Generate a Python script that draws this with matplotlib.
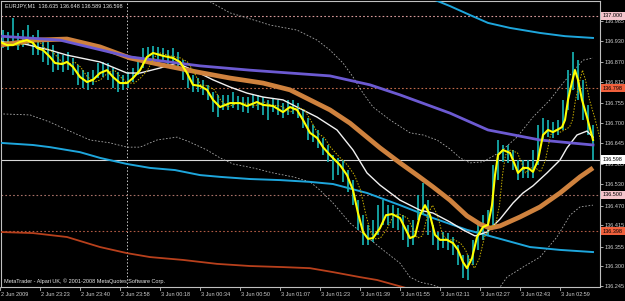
import numpy as np
import matplotlib
matplotlib.use("Agg")
import matplotlib.pyplot as plt
from matplotlib.patches import Rectangle
import matplotlib.transforms as mtransforms

plt.rcParams['font.family'] = ['Liberation Sans', 'DejaVu Sans']

# ---------------- data (x = bar index, y = price) ----------------
title = "EURJPY,M1  136.635 136.648 136.589 136.598"
copyright_txt = "MetaTrader - Alpari UK, \u00a9 2001-2008 MetaQuotes Software Corp."

x_tick_bars = [0, 16, 32, 48, 64, 80, 96, 112, 128, 144, 160, 176, 192, 208, 224]
x_tick_labels = ["2 Jun 2009", "2 Jun 23:23", "2 Jun 23:40", "2 Jun 23:58", "3 Jun 00:18",
                 "3 Jun 00:34", "3 Jun 00:50", "3 Jun 01:07", "3 Jun 01:23", "3 Jun 01:39",
                 "3 Jun 01:55", "3 Jun 02:11", "3 Jun 02:27", "3 Jun 02:43", "3 Jun 02:59"]

y_ticks = [136.985, 136.930, 136.870, 136.815, 136.755, 136.700, 136.645, 136.585,
           136.530, 136.470, 136.415, 136.355, 136.300, 136.245]

# horizontal levels (price, line colour, box colour)
levels = [137.000, 136.798, 136.598, 136.500, 136.398]
level_line_colors = ['#d89a9a', '#c06a4a', '#d8d8d8', '#a87068', '#b05a44']
level_box_colors = ['#f4c4cc', '#f0603c', '#ffffff', '#f4c4cc', '#f0603c']
level_styles = [':', ':', '-', ':', ':']

separator_bar = 50.8

# price bars (high / low)
bar_index = np.arange(1, 238, 2)
bar_high = [136.960, 136.955, 136.994, 136.952, 136.960, 136.974, 136.946, 136.960, 136.938, 136.932,
            136.918, 136.899, 136.890, 136.899, 136.882, 136.862, 136.848, 136.843, 136.848, 136.868,
            136.871, 136.868, 136.854, 136.843, 136.835, 136.843, 136.854, 136.882, 136.910, 136.913,
            136.916, 136.913, 136.910, 136.904, 136.910, 136.899, 136.876, 136.854, 136.835, 136.826,
            136.821, 136.807, 136.787, 136.779, 136.779, 136.779, 136.787, 136.776, 136.773, 136.773,
            136.779, 136.779, 136.773, 136.765, 136.770, 136.765, 136.756, 136.765, 136.765, 136.756,
            136.737, 136.714, 136.695, 136.681, 136.659, 136.639, 136.611, 136.603, 136.597, 136.569,
            136.541, 136.485, 136.443, 136.416, 136.430, 136.471, 136.485, 136.471, 136.471, 136.463,
            136.443, 136.416, 136.430, 136.499, 136.533, 136.485, 136.416, 136.396, 136.396, 136.393,
            136.382, 136.360, 136.332, 136.332, 136.374, 136.416, 136.443, 136.457, 136.583, 136.653,
            136.639, 136.639, 136.625, 136.597, 136.597, 136.597, 136.625, 136.695, 136.714, 136.709,
            136.703, 136.709, 136.765, 136.848, 136.899, 136.876, 136.821, 136.751, 136.695]
bar_low = [136.910, 136.904, 136.918, 136.904, 136.913, 136.918, 136.890, 136.890, 136.871, 136.862,
           136.843, 136.848, 136.843, 136.848, 136.835, 136.807, 136.798, 136.793, 136.807, 136.826,
           136.829, 136.821, 136.798, 136.787, 136.793, 136.798, 136.815, 136.835, 136.854, 136.871,
           136.876, 136.871, 136.871, 136.865, 136.871, 136.854, 136.821, 136.798, 136.787, 136.787,
           136.779, 136.765, 136.731, 136.717, 136.737, 136.737, 136.742, 136.737, 136.731, 136.728,
           136.742, 136.737, 136.723, 136.709, 136.731, 136.723, 136.714, 136.723, 136.726, 136.714,
           136.687, 136.653, 136.647, 136.631, 136.611, 136.592, 136.541, 136.555, 136.536, 136.508,
           136.471, 136.402, 136.360, 136.360, 136.368, 136.388, 136.416, 136.416, 136.407, 136.402,
           136.374, 136.354, 136.360, 136.430, 136.443, 136.388, 136.360, 136.346, 136.351, 136.346,
           136.332, 136.304, 136.268, 136.262, 136.304, 136.346, 136.374, 136.388, 136.416, 136.541,
           136.592, 136.589, 136.569, 136.541, 136.547, 136.547, 136.547, 136.583, 136.653, 136.661,
           136.659, 136.667, 136.681, 136.737, 136.793, 136.765, 136.709, 136.667, 136.597]

# fast smoothed line (yellow)
yellow_x = [0, 2.8, 5.2, 8, 10.8, 13.2, 14.8, 17.2, 20, 22, 24.8, 26.8, 29.2, 32, 34.8, 37.2, 40, 42.8,
            45.2, 48, 50.8, 53.2, 56, 58.8, 61.2, 65.2, 69.2, 72, 74.8, 77.2, 80, 82.8, 85.2, 88, 92,
            96, 98.8, 102.8, 105.2, 109.2, 113.2, 116, 118.8, 121.2, 124, 126.8, 129.2, 132, 136,
            138.8, 141.2, 143.2, 145.2, 147.2, 149.2, 152, 154.4, 156.8, 160, 162, 164, 166, 168,
            170, 172, 174, 176, 178.8, 181.2, 183.2, 185.2, 186.8, 188.8, 190.8, 193.2, 195.2, 196.8,
            198, 199.2, 201.2, 204, 206, 207.2, 209.2, 211.2, 213.2, 215.2, 217.2, 219.2, 221.2,
            222.8, 224.8, 226, 227.2, 228.8, 230, 231.2, 232.8, 234.8, 237.2]
yellow_y = [136.927, 136.918, 136.918, 136.927, 136.932, 136.924, 136.910, 136.904, 136.885, 136.868,
            136.865, 136.871, 136.857, 136.829, 136.815, 136.821, 136.840, 136.848, 136.829, 136.812,
            136.812, 136.826, 136.848, 136.885, 136.896, 136.888, 136.882, 136.871, 136.840, 136.807,
            136.804, 136.793, 136.765, 136.745, 136.756, 136.756, 136.748, 136.759, 136.751, 136.748,
            136.731, 136.745, 136.737, 136.709, 136.673, 136.659, 136.633, 136.611, 136.583, 136.555,
            136.513, 136.449, 136.396, 136.377, 136.379, 136.407, 136.443, 136.446, 136.435, 136.407,
            136.379, 136.385, 136.443, 136.471, 136.443, 136.388, 136.374, 136.374, 136.365, 136.346,
            136.312, 136.295, 136.323, 136.382, 136.410, 136.416, 136.471, 136.555, 136.611, 136.625,
            136.617, 136.583, 136.561, 136.575, 136.575, 136.564, 136.597, 136.667, 136.681, 136.675,
            136.681, 136.689, 136.709, 136.765, 136.815, 136.848, 136.821, 136.765, 136.717, 136.653]
signal_lag_bars = 3

# white moving average
white_x = [0, 8, 20, 26.8, 40, 50.8, 56, 64, 70.8, 78.8, 85.2, 92, 98.8, 105.2, 113.2, 118.8, 126.8,
           134.8, 141.2, 146.8, 152, 160, 168, 173.2, 180, 185.2, 190, 194.8, 200, 205.2, 209.2,
           213.2, 218.8, 224, 226.8, 230.8, 234.8, 237.2]
white_y = [136.927, 136.924, 136.904, 136.890, 136.871, 136.840, 136.840, 136.854, 136.868, 136.843,
           136.821, 136.801, 136.784, 136.773, 136.765, 136.745, 136.717, 136.681, 136.625, 136.561,
           136.527, 136.485, 136.457, 136.449, 136.424, 136.402, 136.385, 136.396, 136.432, 136.477,
           136.505, 136.525, 136.561, 136.597, 136.631, 136.667, 136.678, 136.661]

# orange moving average
orange_x = [0, 14, 26.8, 40, 52, 65.2, 78.8, 92, 105.2, 116, 124, 132, 140, 152, 160, 166.8, 173.2,
            180, 186.8, 192, 196, 200, 208, 216, 224, 232, 237.2]
orange_y = [136.918, 136.932, 136.935, 136.913, 136.882, 136.862, 136.843, 136.826, 136.812, 136.793,
            136.765, 136.737, 136.700, 136.631, 136.589, 136.555, 136.522, 136.485, 136.441, 136.418,
            136.407, 136.413, 136.438, 136.466, 136.505, 136.550, 136.575]

# slow moving average (purple)
purple_x = [0, 24, 52, 80, 100, 132, 148, 160, 180, 195.2, 216, 237.2]
purple_y = [136.943, 136.932, 136.885, 136.860, 136.848, 136.832, 136.807, 136.779, 136.728,
            136.681, 136.653, 136.639]

# envelope of slow average (cyan)
cyan_up_x = [171.2, 180, 188, 195.2, 204, 216, 226, 237.2]
cyan_up_y = [137.052, 137.027, 137.002, 136.980, 136.966, 136.952, 136.943, 136.938]
cyan_lo_x = [0, 13.2, 20, 32, 40, 50.8, 60, 70, 80, 88, 100, 112, 124, 133.2, 146.8, 160, 173.2,
             186.8, 200, 212, 224, 237.2]
cyan_lo_y = [136.645, 136.639, 136.633, 136.619, 136.603, 136.586, 136.575, 136.569, 136.555,
             136.550, 136.544, 136.541, 136.536, 136.530, 136.505, 136.471, 136.435, 136.402,
             136.377, 136.354, 136.346, 136.340]

# lower red envelope
red_x = [0, 13.2, 26.8, 40, 50.8, 60, 73.2, 86.8, 100, 113.2, 124, 133.2, 144, 150.8, 161.2, 168]
red_y = [136.396, 136.393, 136.382, 136.354, 136.337, 136.326, 136.318, 136.307, 136.301, 136.298,
         136.295, 136.284, 136.270, 136.262, 136.242, 136.228]

# bands (grey dotted)
band_up_x = [76, 82.8, 92, 98.8, 108, 118.8, 126.8, 132, 137.2, 141.2, 145.2, 149.2, 156, 164, 169.2,
             174.8, 180, 184, 188, 193.2, 200, 206.8, 213.2, 220, 225.2, 230.8, 233.2, 237.2]
band_up_y = [137.058, 137.044, 137.008, 136.994, 136.974, 136.960, 136.932, 136.904, 136.868,
             136.829, 136.784, 136.745, 136.709, 136.673, 136.667, 136.653, 136.628, 136.603,
             136.589, 136.592, 136.619, 136.661, 136.717, 136.765, 136.812, 136.857, 136.876, 136.882]
band_lo_x = [0, 12, 20, 26.8, 36, 44, 50.8, 56, 62.8, 70.8, 76, 82.8, 88, 93.2, 101.2, 109.2, 117.2,
             124, 128, 133.2, 140, 146.8, 153.2, 160, 164, 168, 173.2, 180, 188, 196, 200, 202.8,
             209.2, 216, 222.8, 228, 232, 237.2]
band_lo_y = [136.726, 136.723, 136.703, 136.681, 136.653, 136.645, 136.633, 136.633, 136.653,
             136.661, 136.647, 136.625, 136.603, 136.586, 136.575, 136.561, 136.550, 136.536,
             136.513, 136.477, 136.421, 136.382, 136.346, 136.309, 136.270, 136.256, 136.248,
             136.228, 136.217, 136.234, 136.242, 136.270, 136.298, 136.326, 136.382, 136.443,
             136.466, 136.471]

# ---------------- figure ----------------
W, H = 625, 301
fig = plt.figure(figsize=(W / 100, H / 100), dpi=100, facecolor='black')
ax = fig.add_axes([1 / W, 14 / H, 599 / W, 286 / H], facecolor='black')
ax.set_xlim(0.4, 240)
ax.set_ylim(136.2424, 137.0412)

for s in ax.spines.values():
    s.set_color('#c0c0c0')
    s.set_linewidth(0.8)

# grid-like levels
ax.axvline(separator_bar, color='#c8c8c8', lw=0.7, ls=(0, (1.5, 2)))
for lv, lc, ls in zip(levels, level_line_colors, level_styles):
    ax.axhline(lv, color=lc, lw=0.8 if ls == '-' else 0.8, ls=ls if ls == '-' else (0, (1.5, 2)),
               zorder=2)

# bands and envelopes
ax.plot(band_up_x, band_up_y, color='#a8a8a8', lw=0.6, ls=(0, (2, 2)), zorder=3)
ax.plot(band_lo_x, band_lo_y, color='#a8a8a8', lw=0.6, ls=(0, (2, 2)), zorder=3)
ax.plot(red_x, red_y, color='#b8401c', lw=1.3, zorder=3)
ax.plot(cyan_up_x, cyan_up_y, color='#1ea6dc', lw=1.4, zorder=3)
ax.plot(cyan_lo_x, cyan_lo_y, color='#1ea6dc', lw=1.4, zorder=3)

# price bars
ax.vlines(bar_index, bar_low, bar_high, color='#16aaaa', lw=1.3, zorder=4)

# moving averages
ax.plot(white_x, white_y, color='#f2f2f2', lw=1.0, zorder=5)
ax.plot(orange_x, orange_y, color='#cf823e', lw=3.4, zorder=5, solid_capstyle='butt')
ax.plot(purple_x, purple_y, color='#6c5ad2', lw=2.0, zorder=6)
ax.plot(np.array(yellow_x) + signal_lag_bars, yellow_y, color='#c8b000', lw=0.7,
        ls=(0, (1.5, 1.5)), zorder=6)
ax.plot(yellow_x, yellow_y, color='#ffff00', lw=1.5, zorder=7)

# right price axis
ax.yaxis.tick_right()
ax.set_yticks(y_ticks)
ax.set_yticklabels([f"{v:.3f}" for v in y_ticks])
ax.tick_params(axis='y', colors='#c8c8c8', labelsize=4, length=2, width=0.6, pad=1.5,
               labelcolor='#d0d0d0')
ax.set_xticks([])

# level boxes on the price axis
for lv, bc in zip(levels, level_box_colors):
    ypx = H - (14 + (lv - 136.2424) / (137.0412 - 136.2424) * 286)
    fig.patches.append(Rectangle((601 / W, 1 - (ypx + 4.2) / H), 24 / W, 8.4 / H,
                                 transform=fig.transFigure, facecolor=bc, edgecolor='none',
                                 zorder=10))
    fig.text(603 / W, 1 - ypx / H, f"{lv:.3f}", fontsize=4, color='#000000', va='center',
             ha='left', zorder=11)

# time axis labels
trans = mtransforms.blended_transform_factory(ax.transData, fig.transFigure)
for b, lab in zip(x_tick_bars, x_tick_labels):
    ax.plot([b, b], [14 / H, 11 / H], transform=trans, color='#c0c0c0', lw=0.6, clip_on=False)
    ax.text(b + 0.4, 7 / H, lab, transform=trans, fontsize=4, color='#d0d0d0', ha='left',
            va='center', clip_on=False)

fig.text(5 / W, 1 - 6 / H, title, fontsize=4, color='#e8e8e8', ha='left', va='center')
ax.text(3 / 599, 3 / 286, copyright_txt, transform=ax.transAxes, fontsize=4, color='#e8e8e8',
        ha='left', va='bottom', zorder=9)

fig.savefig('out.png', dpi=100, facecolor='black')
